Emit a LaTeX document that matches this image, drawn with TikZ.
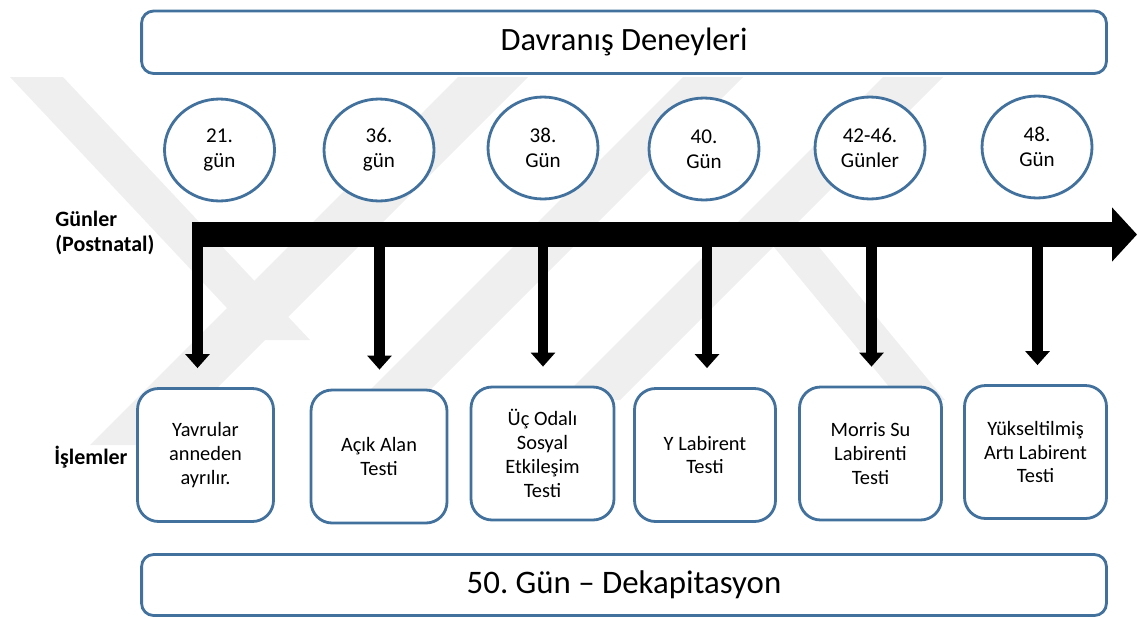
\documentclass[tikz,border=0pt]{standalone}
\usepackage{fontspec}
\setmainfont{Carlito}
\usetikzlibrary{arrows.meta,shapes.geometric}
\definecolor{kenar}{HTML}{41719C}
\definecolor{filigran}{HTML}{EFEFEF}
\frenchspacing

\begin{document}
\begin{tikzpicture}[x=0.02cm,y=-0.02cm,
	baslik/.style={draw=kenar,line width=1.6pt,fill=white,rounded corners=0.24cm,minimum width=19.3cm,minimum height=1.25cm,inner sep=0pt},
	gun/.style={ellipse,draw=kenar,line width=1.6pt,fill=white,minimum width=2.2cm,minimum height=2.04cm,inner sep=0pt,align=center,font=\fontsize{12}{14.2}\selectfont},
	islem/.style={draw=kenar,line width=1.6pt,fill=white,rounded corners=0.42cm,minimum height=2.66cm,inner sep=0pt,align=center,font=\fontsize{11.6}{13.6}\selectfont},
	etiket/.style={anchor=west,align=left,inner sep=0pt,font=\fontsize{12.5}{14.5}\selectfont\bfseries},
	dal/.style={line width=6.2pt,-{Triangle[width=13.6pt,length=8pt]},shorten >=0.38cm}]
	\useasboundingbox (0,0) rectangle (1138,619);
	% filigran
	\begin{scope}
		\clip (0,77) rectangle (1138,445);
		\fill[filigran] (10,77) -- (63,77) -- (310,340) -- (257,340) -- cycle;
		\fill[filigran] (90,445) -- (160,445) -- (528,77) -- (458,77) -- cycle;
		\fill[filigran] (330,430) -- (390,430) -- (743,77) -- (683,77) -- cycle;
		\fill[filigran] (560,400) -- (620,400) -- (943,77) -- (883,77) -- cycle;
		\fill[filigran] (760,230) -- (805,230) -- (945,400) -- (900,400) -- cycle;
	\end{scope}
	% kutular
	\node[baslik,font=\fontsize{18.5}{22}\selectfont] (ust) at (624,42.25) {Davranış Deneyleri};
	\node[baslik,font=\fontsize{18.7}{22}\selectfont,minimum height=1.22cm] (alt) at (624,585) {50. Gün -- Dekapitasyon};
	% gunler
	\node[gun] (g1) at (219.5,150) {21.\\gün};
	\node[gun] (g2) at (379,150) {36.\\gün};
	\node[gun] (g3) at (543,148) {38.\\Gün};
	\node[gun] (g4) at (704,149) {40.\\Gün};
	\node[gun] (g5) at (870,148) {42-46.\\Günler};
	\node[gun] (g6) at (1037,147) {48.\\Gün};
	\node[etiket] (gl) at (55,233) {Günler\\(Postnatal)};
	\node[etiket] (il) at (54,457) {İşlemler};
	% islemler
	\node[islem,minimum width=2.72cm] (b1) at (205.5,455) {Yavrular\\anneden\\ayrılır.};
	\node[islem,minimum width=2.72cm] (b2) at (379,456.5) {Açık Alan\\Testi};
	\node[islem,minimum width=2.86cm] (b3) at (542.5,453.5) {Üç Odalı\\Sosyal\\Etkileşim\\Testi};
	\node[islem,minimum width=2.82cm] (b4) at (705,455) {Y Labirent\\Testi};
	\node[islem,minimum width=2.84cm] (b5) at (870.5,453.5) {Morris Su\\Labirenti\\Testi};
	\node[islem,minimum width=2.84cm] (b6) at (1035.5,452) {Yükseltilmiş\\Artı Labirent\\Testi};
	% zaman cizgisi
	\coordinate (bas) at (192,234.5);
	\coordinate (son) at (1137,234.5);
	\coordinate (t1) at (197.5,234.5);
	\coordinate (t2) at (379.5,234.5);
	\coordinate (t3) at (543,234.5);
	\coordinate (t4) at (707,234.5);
	\coordinate (t5) at (871.5,234.5);
	\coordinate (t6) at (1037.5,234.5);
	\foreach \i in {1,...,6}
		\draw[dal] (t\i) -- (t\i |- b\i.north);
	\draw[line width=14.2pt,-{Triangle[width=30pt,length=14.2pt]}] (bas) -- (son);
\end{tikzpicture}
\end{document}
